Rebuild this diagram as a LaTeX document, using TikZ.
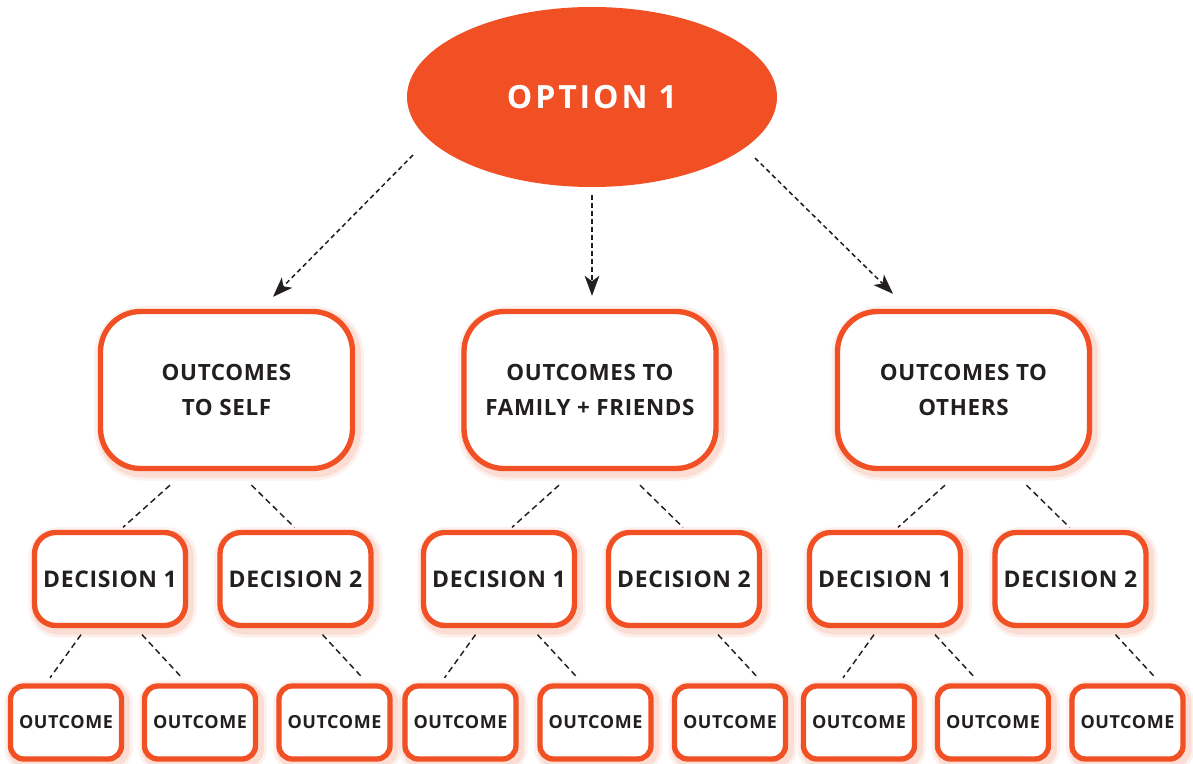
\documentclass[tikz,border=0pt]{standalone}
\usepackage{fontspec}
\setmainfont{Open Sans}
\newfontfamily\lblfont[LetterSpace=3]{Open Sans}
\newfontfamily\titlefont[LetterSpace=9]{Open Sans}
\usetikzlibrary{shapes.geometric,arrows.meta,calc}
\definecolor{org}{HTML}{F05024}
\definecolor{ink}{HTML}{231F20}
\tikzset{
  glow/.style={
    preaction={draw=org, draw opacity=0.08, line width=13pt, transform canvas={shift={(2pt,-2.5pt)}}},
    preaction={draw=org, draw opacity=0.12, line width=8.5pt, transform canvas={shift={(2pt,-2.5pt)}}}},
  box/.style={glow, draw=org, line width=4pt, fill=white, text=ink, align=center, inner sep=0pt},
  bigbox/.style={box, rounded corners=30pt, minimum width=252*0.75pt, minimum height=157*0.75pt,
    font=\lblfont\bfseries\fontsize{16.8pt}{26.5pt}\selectfont},
  decbox/.style={box, rounded corners=16pt, minimum width=151*0.75pt, minimum height=93*0.75pt,
    font=\lblfont\bfseries\fontsize{17.2pt}{20pt}\selectfont},
  outbox/.style={box, rounded corners=10pt, minimum width=111*0.75pt, minimum height=73*0.75pt,
    font=\lblfont\bfseries\fontsize{13.5pt}{16pt}\selectfont},
  oval/.style={ellipse, fill=org, text=white, inner sep=0pt, minimum width=370*0.75pt, minimum height=180*0.75pt,
    font=\titlefont\bfseries\fontsize{24pt}{28pt}\selectfont},
  arr/.style={draw=ink, line width=1.15pt, dash pattern=on 3.5pt off 2.5pt, -{Stealth[length=15pt, width=11pt, inset=4pt]}},
  link/.style={draw=ink, line width=1.1pt, dash pattern=on 4.5pt off 3pt}
}
\begin{document}
\begin{tikzpicture}[x=0.75pt,y=-0.75pt]
\fill[white] (0,0) rectangle (1193,764);
\useasboundingbox (0,0) rectangle (1193,764);

\node[oval] (opt) at (592,97) {OPTION 1};

\node[bigbox] (b1) at (226.5,390) {OUTCOMES\\TO SELF};
\node[bigbox] (b2) at (590,390) {OUTCOMES TO\\FAMILY + FRIENDS};
\node[bigbox] (b3) at (963.5,390) {OUTCOMES TO\\OTHERS};

\node[decbox] (d1a) at (110,579) {DECISION 1};
\node[decbox] (d2a) at (295.5,579) {DECISION 2};
\node[decbox] (d1b) at (499,579) {DECISION 1};
\node[decbox] (d2b) at (684,579) {DECISION 2};
\node[decbox] (d1c) at (885,579) {DECISION 1};
\node[decbox] (d2c) at (1070.5,579) {DECISION 2};

\node[outbox] (o1) at (66,722.5) {OUTCOME};
\node[outbox] (o2) at (200,722.5) {OUTCOME};
\node[outbox] (o3) at (334.5,722.5) {OUTCOME};
\node[outbox] (o4) at (460.5,722.5) {OUTCOME};
\node[outbox] (o5) at (595.5,722.5) {OUTCOME};
\node[outbox] (o6) at (730,722.5) {OUTCOME};
\node[outbox] (o7) at (859,722.5) {OUTCOME};
\node[outbox] (o8) at (993,722.5) {OUTCOME};
\node[outbox] (o9) at (1127.5,722.5) {OUTCOME};

% arrows from option
\draw[arr] ($(opt.center)+(-179,58)$) -- ($(b1.north)+(46.5,-12)$);
\draw[arr] ($(opt.south)+(0,8)$) -- ($(b2.north)+(2,-13)$);
\draw[arr] ($(opt.center)+(163,61)$) -- ($(b3.north)+(-70.5,-15)$);

% big boxes to decisions
\draw[link] ($(b1.south -| d1a.north)+(60,14)$) -- ($(d1a.north)+(13,-2.5)$);
\draw[link] ($(b1.south -| d2a.north)+(-44,14)$) -- ($(d2a.north)+(-1,-2.5)$);
\draw[link] ($(b2.south -| d1b.north)+(60,14)$) -- ($(d1b.north)+(13,-2.5)$);
\draw[link] ($(b2.south -| d2b.north)+(-44,14)$) -- ($(d2b.north)+(-1,-2.5)$);
\draw[link] ($(b3.south -| d1c.north)+(60,14)$) -- ($(d1c.north)+(13,-2.5)$);
\draw[link] ($(b3.south -| d2c.north)+(-44,14)$) -- ($(d2c.north)+(-1,-2.5)$);

% decisions to outcomes
\draw[link] ($(d1a.south -| o1.north)+(15,6.5)$) -- ($(o1.north)+(-16,-5.5)$);
\draw[link] ($(d1a.south -| o2.north)+(-58,6.5)$) -- ($(o2.north)+(-18,-5.5)$);
\draw[link] ($(d2a.south -| o3.north)+(-12,6.5)$) -- ($(o3.north)+(28,-5.5)$);
\draw[link] ($(d1b.south -| o4.north)+(15,6.5)$) -- ($(o4.north)+(-16,-5.5)$);
\draw[link] ($(d1b.south -| o5.north)+(-58,6.5)$) -- ($(o5.north)+(-18,-5.5)$);
\draw[link] ($(d2b.south -| o6.north)+(-12,6.5)$) -- ($(o6.north)+(28,-5.5)$);
\draw[link] ($(d1c.south -| o7.north)+(15,6.5)$) -- ($(o7.north)+(-16,-5.5)$);
\draw[link] ($(d1c.south -| o8.north)+(-58,6.5)$) -- ($(o8.north)+(-18,-5.5)$);
\draw[link] ($(d2c.south -| o9.north)+(-12,6.5)$) -- ($(o9.north)+(28,-5.5)$);
\end{tikzpicture}
\end{document}
